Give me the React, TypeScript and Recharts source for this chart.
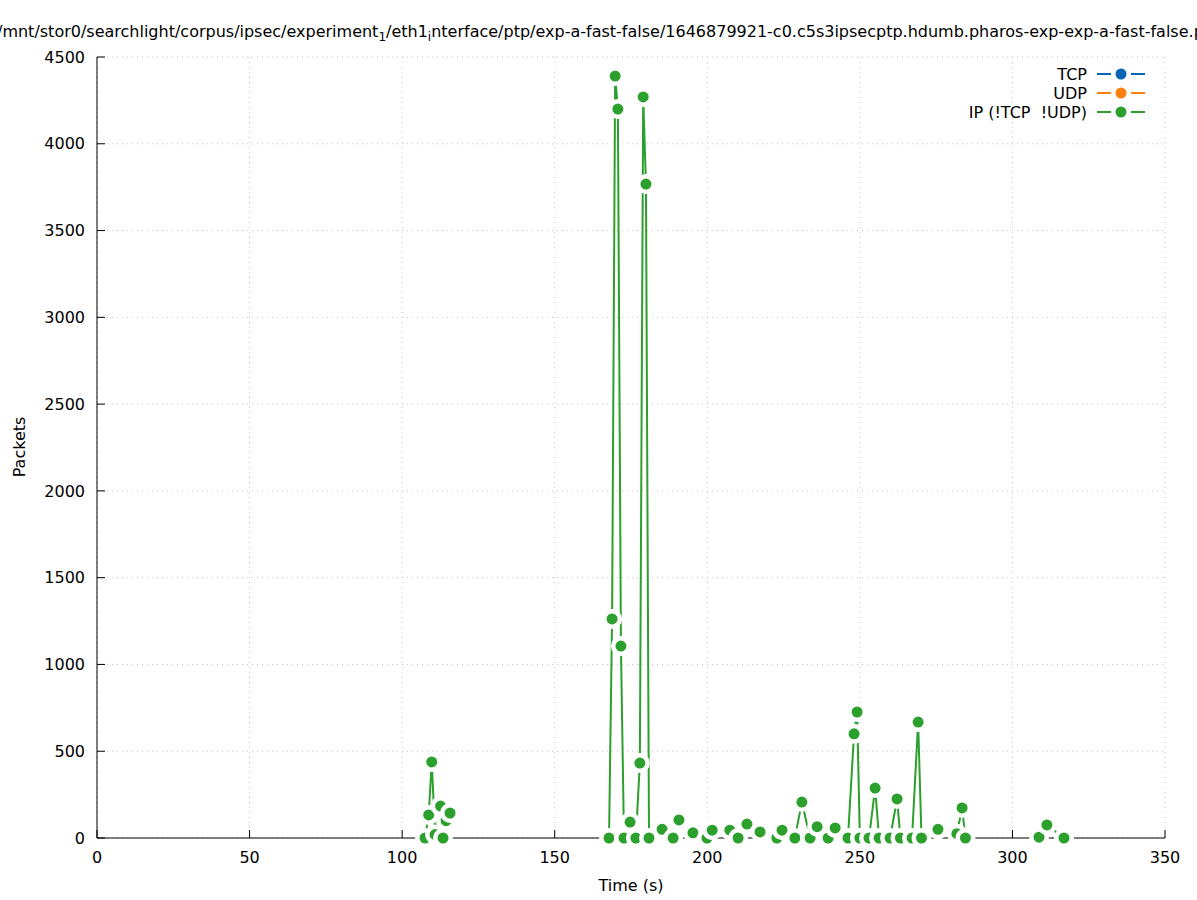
import React from 'react';
import { ComposedChart, Line, XAxis, YAxis, CartesianGrid } from 'recharts';

const FONT = '"DejaVu Sans", sans-serif';
const GREEN = '#2ca02c';

// time (s) of each sample; null packet counts break the line between bursts
const times = [
  107.5, 108.7, 109.7, 110.8, 112.6, 113.4, 114.4, 115.7,
  140,
  167.8, 168.8, 169.8, 170.7, 171.7, 172.7, 174.7, 176.6, 177.9, 179.0, 179.9, 180.9,
  185.2, 188.8, 190.7, 195.3, 199.9, 201.6, 207.4, 210.1, 213.0, 217.3, 222.8, 224.5,
  228.7, 231.0, 233.7, 236.0, 239.6, 241.9, 246.1, 248.1, 249.1, 250.0, 253.0, 255.0,
  256.3, 259.9, 262.2, 263.3, 267.1, 269.1, 270.2, 275.6, 281.8, 283.5, 284.6,
  296,
  308.7, 311.3, 316.9,
];

// IP (!TCP !UDP) packets per sample
const ipPackets: (number | null)[] = [
  0, 133, 438, 20, 184, 0, 100, 144,
  null,
  0, 1262, 4390, 4200, 1106, 0, 92, 0, 432, 4270, 3768, 0,
  50, 0, 104, 30, 0, 45, 45, 0, 80, 35, 0, 45,
  0, 207, 0, 65, 0, 58, 0, 600, 726, 0, 0, 288,
  0, 0, 225, 0, 0, 668, 0, 50, 25, 173, 0,
  null,
  5, 75, 0,
];

const xTicks = [0, 50, 100, 150, 200, 250, 300, 350];
const yTicks = [0, 500, 1000, 1500, 2000, 2500, 3000, 3500, 4000, 4500];

const legendItems = [
  { name: 'TCP', color: '#0864b4' },
  { name: 'UDP', color: '#ff7f0e' },
  { name: 'IP (!TCP  !UDP)', color: GREEN },
];

const data = times.map((t, i) => ({ time: t, ip: ipPackets[i] }));

const tickStyle = { fontFamily: FONT, fontSize: 16, fill: '#000' };
const blank = () => '';

export default function App() {
  return (
    <div style={{ position: 'absolute', left: 0, top: 0, width: 1197, height: 900, background: '#fff' }}>
      <ComposedChart width={1197} height={900} data={data} margin={{ top: 57, right: 32, bottom: 0, left: 0 }}>
        <CartesianGrid stroke="#c4c4c4" strokeDasharray="1 4" />
        <XAxis
          dataKey="time"
          type="number"
          domain={[0, 350]}
          ticks={xTicks}
          interval={0}
          height={62}
          stroke="#000"
          tickSize={-8}
          tickMargin={22}
          tick={tickStyle}
        />
        <XAxis
          xAxisId="top"
          orientation="top"
          dataKey="time"
          type="number"
          domain={[0, 350]}
          ticks={xTicks}
          interval={0}
          height={0}
          axisLine={false}
          stroke="#000"
          tickSize={-8}
          tickFormatter={blank}
        />
        <YAxis
          type="number"
          domain={[0, 4500]}
          ticks={yTicks}
          interval={0}
          width={97}
          stroke="#000"
          tickSize={-8}
          tickMargin={20}
          tick={tickStyle}
        />
        <YAxis
          yAxisId="right"
          orientation="right"
          type="number"
          domain={[0, 4500]}
          ticks={yTicks}
          interval={0}
          width={0}
          axisLine={false}
          stroke="#000"
          tickSize={-8}
          tickFormatter={blank}
        />
        <Line
          dataKey="ip"
          type="linear"
          stroke={GREEN}
          strokeWidth={2}
          dot={{ r: 7.75, fill: GREEN, stroke: '#fff', strokeWidth: 4.5 }}
          activeDot={false}
          connectNulls={false}
          isAnimationActive={false}
        />
      </ComposedChart>
      <svg
        width={1197}
        height={900}
        style={{ position: 'absolute', left: 0, top: 0, pointerEvents: 'none' }}
        fontFamily={FONT}
        fontSize={16}
      >
        <text x={-3} y={37} fill="#000">
          /mnt/stor0/searchlight/corpus/ipsec/experiment
          <tspan fontSize={12} dy={4}>1</tspan>
          <tspan dy={-4}>/eth1</tspan>
          <tspan fontSize={12} dy={4}>i</tspan>
          <tspan dy={-4}>nterface/ptp/exp-a-fast-false/1646879921-c0.c5s3ipsecptp.hdumb.pharos-exp-exp-a-fast-false.pcap</tspan>
        </text>
        <text x={631} y={891} textAnchor="middle" fill="#000">Time (s)</text>
        <text transform="translate(25,447) rotate(-90)" textAnchor="middle" fill="#000">Packets</text>
        {legendItems.map((s, i) => (
          <g key={s.name} transform={`translate(0,${74 + i * 19})`}>
            <text x={1087} y={6} textAnchor="end" fill="#000" style={{ whiteSpace: 'pre' }}>{s.name}</text>
            <line x1={1097} x2={1145} y1={0} y2={0} stroke={s.color} strokeWidth={2} />
            <circle cx={1121} cy={0} r={7.75} fill={s.color} stroke="#fff" strokeWidth={4.5} />
          </g>
        ))}
      </svg>
    </div>
  );
}
